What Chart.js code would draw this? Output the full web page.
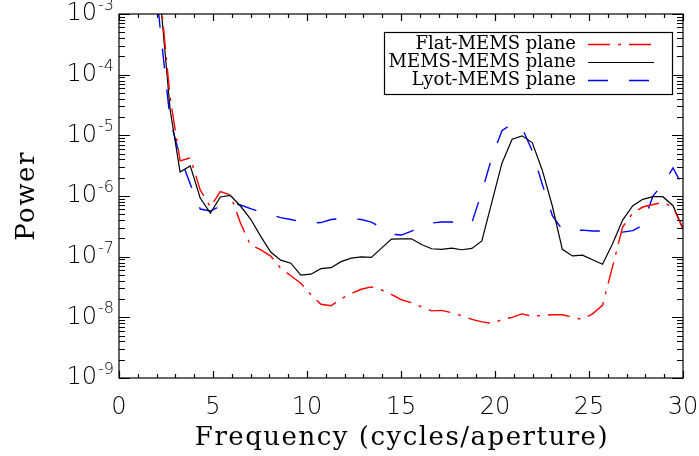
<!DOCTYPE html>
<html>
<head>
<meta charset="utf-8">
<title>Power spectra</title>
<script src="https://cdn.jsdelivr.net/npm/chart.js@4.4.1/dist/chart.umd.min.js"></script>
<style>
  html, body { margin: 0; padding: 0; background: #ffffff; }
  canvas { display: block; }
</style>
</head>
<body>
<canvas id="psdChart" width="699" height="456"></canvas>
<script>
// Spatial frequency samples (cycles/aperture)
const freq = [1.65, 2.18, 2.72, 3.25, 3.79, 4.32, 4.86, 5.39, 5.93, 6.46, 7.00, 7.53, 8.07, 8.60,
  9.14, 9.67, 10.21, 10.74, 11.28, 11.81, 12.35, 12.88, 13.42, 13.95, 14.49, 15.02, 15.56, 16.09,
  16.63, 17.16, 17.70, 18.23, 18.77, 19.30, 19.84, 20.37, 20.91, 21.44, 21.98, 22.51, 23.05, 23.58,
  24.12, 24.65, 25.19, 25.72, 26.26, 26.79, 27.33, 27.86, 28.40, 28.93, 29.47, 30.00];

// Power per plane
const flatMems = [3e-1, 2.36e-3, 4.17e-5, 3.79e-6, 4.25e-6, 1.26e-6, 6.58e-7, 1.18e-6, 1.04e-6, 3.58e-7,
  1.55e-7, 1.31e-7, 1.02e-7, 6.46e-8, 4.85e-8, 3.65e-8, 2.36e-8, 1.64e-8, 1.55e-8, 2.02e-8, 2.45e-8,
  2.90e-8, 3.17e-8, 2.85e-8, 2.40e-8, 1.95e-8, 1.74e-8, 1.49e-8, 1.28e-8, 1.30e-8, 1.19e-8, 1.06e-8,
  9.27e-9, 8.43e-9, 7.96e-9, 9.16e-9, 1.00e-8, 1.14e-8, 1.04e-8, 1.08e-8, 1.10e-8, 1.10e-8, 1.00e-8,
  9.27e-9, 1.14e-8, 1.58e-8, 6.97e-8, 3.08e-7, 5.24e-7, 6.58e-7, 7.24e-7, 7.81e-7, 6.58e-7, 2.85e-7];

const memsMems = [2e-1, 2.02e-3, 2.64e-5, 2.49e-6, 3.13e-6, 9.27e-7, 5.24e-7, 9.62e-7, 1.02e-6, 6.84e-7,
  4.17e-7, 2.18e-7, 1.19e-7, 8.75e-8, 7.81e-8, 4.95e-8, 5.14e-8, 6.34e-8, 6.58e-8, 8.27e-8, 9.44e-8,
  9.93e-8, 9.70e-8, 1.37e-7, 1.95e-7, 1.96e-7, 1.97e-7, 1.59e-7, 1.35e-7, 1.32e-7, 1.38e-7, 1.30e-7,
  1.37e-7, 1.82e-7, 8.05e-7, 3.47e-6, 8.65e-6, 9.81e-6, 7.60e-6, 2.69e-6, 6.84e-7, 1.32e-7, 1.03e-7,
  1.06e-7, 8.91e-8, 7.51e-8, 1.65e-7, 4.01e-7, 6.92e-7, 8.82e-7, 9.73e-7, 9.73e-7, 6.92e-7, 2.92e-7];

const lyotMems = [2.8e-2, 6.21e-4, 1.80e-5, 4.42e-6, 1.58e-6, 6.10e-7, 5.65e-7, 6.84e-7, 7.66e-7, 7.10e-7,
  6.21e-7, 5.44e-7, 4.94e-7, 4.41e-7, 4.09e-7, 3.79e-7, 3.58e-7, 3.65e-7, 4.09e-7, 4.25e-7, 4.27e-7,
  4.09e-7, 3.72e-7, 3.01e-7, 2.35e-7, 2.27e-7, 2.64e-7, 3.19e-7, 3.58e-7, 3.72e-7, 3.72e-7, 3.32e-7,
  3.65e-7, 1.16e-6, 4.42e-6, 1.19e-5, 1.55e-5, 1.33e-5, 5.55e-6, 1.58e-6, 4.76e-7, 2.79e-7, 2.69e-7,
  2.74e-7, 2.65e-7, 2.64e-7, 2.60e-7, 2.54e-7, 2.69e-7, 3.32e-7, 1.00e-6, 1.58e-6, 2.90e-6, 1.41e-6];

// Axis ticks
const xTicks = [0, 5, 10, 15, 20, 25, 30];
const yTickExps = [-3, -4, -5, -6, -7, -8, -9];

const legendLabels = ['Flat-MEMS plane', 'MEMS-MEMS plane', 'Lyot-MEMS plane'];

function toPoints(values) {
  return values.map((v, i) => ({ x: freq[i], y: v }));
}

// Box, inward ticks, labels and legend drawn on top of the data
const framePlugin = {
  id: 'frame',
  afterDatasetsDraw(chart) {
    const ctx = chart.ctx;
    const area = chart.chartArea;
    const xs = chart.scales.x;
    const ys = chart.scales.y;
    ctx.save();
    ctx.strokeStyle = '#000';
    ctx.lineWidth = 1.2;
    ctx.strokeRect(area.left, area.top, area.right - area.left, area.bottom - area.top);

    ctx.beginPath();
    for (let v = 0; v <= 30; v++) {
      const px = Math.round(xs.getPixelForValue(v)) + 0.5;
      const len = v % 5 === 0 ? 7 : 4;
      ctx.moveTo(px, area.bottom); ctx.lineTo(px, area.bottom - len);
      ctx.moveTo(px, area.top); ctx.lineTo(px, area.top + len);
    }
    for (let e = -9; e <= -3; e++) {
      for (let m = 1; m <= 9; m++) {
        if (e === -3 && m > 1) break;
        const py = Math.round(ys.getPixelForValue(m * Math.pow(10, e))) + 0.5;
        const len = m === 1 ? 11 : 6;
        ctx.moveTo(area.left, py); ctx.lineTo(area.left + len, py);
        ctx.moveTo(area.right, py); ctx.lineTo(area.right - len, py);
      }
    }
    ctx.stroke();

    // tick labels
    ctx.fillStyle = '#000';
    ctx.textBaseline = 'middle';
    ctx.textAlign = 'center';
    ctx.font = '200 24px "DejaVu Sans"';
    xTicks.forEach(v => {
      ctx.fillText(String(v), xs.getPixelForValue(v), 408);
    });
    yTickExps.forEach(e => {
      const py = ys.getPixelForValue(Math.pow(10, e));
      ctx.font = '200 24px "DejaVu Sans"';
      ctx.textAlign = 'right';
      ctx.fillText('10', 97, py);
      ctx.font = '200 16px "DejaVu Sans"';
      ctx.textAlign = 'left';
      ctx.fillText(String(e), 98, py - 8);
    });

    // axis titles
    ctx.font = '26px "DejaVu Serif"';
    ctx.textAlign = 'center';
    ctx.letterSpacing = '1.5px';
    ctx.fillText('Frequency (cycles/aperture)', (area.left + area.right) / 2 + 1, 438);
    ctx.save();
    ctx.translate(27, (area.top + area.bottom) / 2);
    ctx.rotate(-Math.PI / 2);
    ctx.fillText('Power', 0, 0);
    ctx.restore();
    ctx.letterSpacing = '0px';

    // legend
    ctx.fillStyle = '#fff';
    ctx.fillRect(384, 32, 288, 62);
    ctx.lineWidth = 1.2;
    ctx.strokeRect(384.5, 32.5, 288, 62);
    ctx.font = '18px "DejaVu Serif"';
    ctx.textAlign = 'right';
    ctx.fillStyle = '#000';
    const rows = [44.5, 62.5, 80.5];
    chart.data.datasets.forEach((ds, i) => {
      ctx.fillText(legendLabels[i], 576, rows[i]);
      ctx.beginPath();
      ctx.strokeStyle = ds.borderColor;
      ctx.lineWidth = ds.borderWidth;
      ctx.setLineDash(ds.borderDash || []);
      ctx.moveTo(588, rows[i]);
      ctx.lineTo(654, rows[i]);
      ctx.stroke();
      ctx.setLineDash([]);
    });
    ctx.restore();
  }
};

const ctx = document.getElementById('psdChart').getContext('2d');
new Chart(ctx, {
  type: 'line',
  data: {
    datasets: [
      {
        label: legendLabels[0],
        data: toPoints(flatMems),
        borderColor: '#ff0000',
        borderWidth: 1.4,
        borderDash: [22, 8, 3, 8], // dash-dot
      },
      {
        label: legendLabels[1],
        data: toPoints(memsMems),
        borderColor: '#000000',
        borderWidth: 1.2,
      },
      {
        label: legendLabels[2],
        data: toPoints(lyotMems),
        borderColor: '#0000ff',
        borderWidth: 1.4,
        borderDash: [20, 21], // long dashes
      },
    ],
  },
  options: {
    responsive: false,
    animation: false,
    devicePixelRatio: 1,
    layout: { padding: { left: 119, right: 16, top: 14, bottom: 78 } },
    elements: {
      point: { radius: 0 },
      line: { tension: 0, fill: false },
    },
    plugins: {
      legend: { display: false },
      tooltip: { enabled: false },
    },
    scales: {
      x: { type: 'linear', min: 0, max: 30, display: false },
      y: { type: 'logarithmic', min: 1e-9, max: 1e-3, display: false },
    },
  },
  plugins: [framePlugin],
});
</script>
</body>
</html>
